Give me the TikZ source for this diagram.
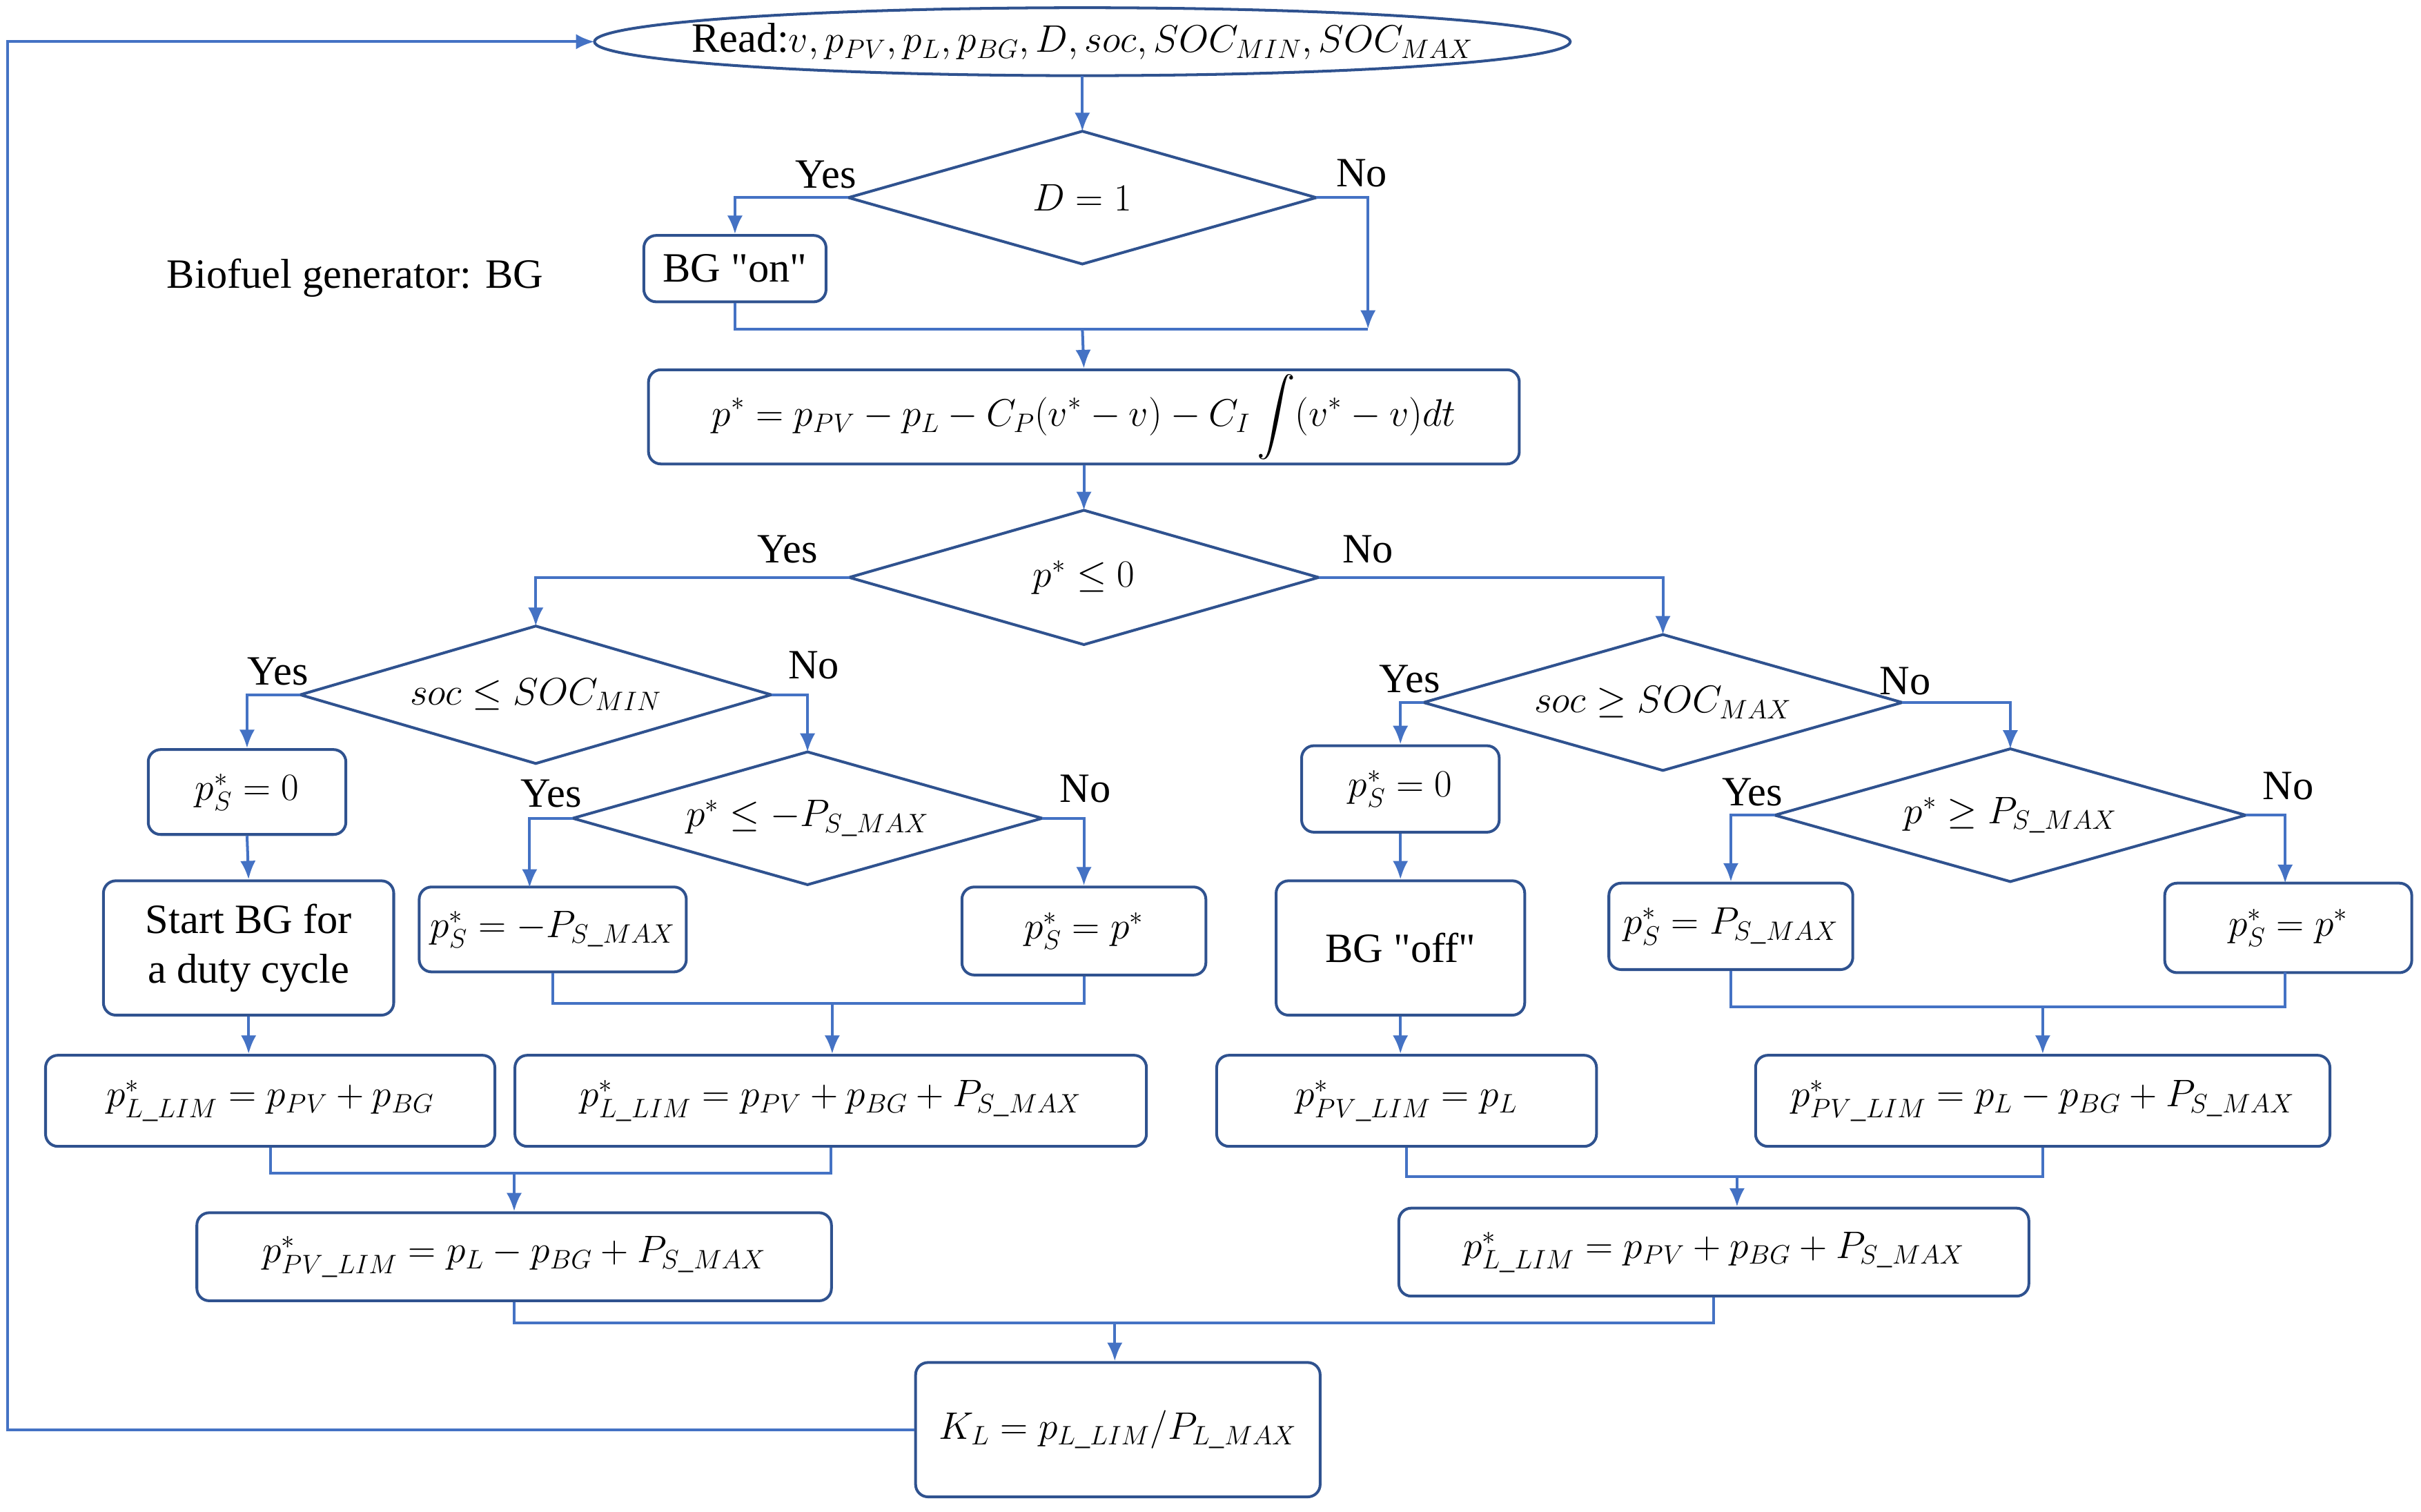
\documentclass[tikz,border=0pt]{standalone}
\usepackage{amsmath}
\usepackage{fontspec}
\setmainfont{Liberation Serif}
\usetikzlibrary{shapes.geometric,arrows.meta}
\definecolor{ln}{RGB}{68,114,196}
\definecolor{bd}{RGB}{47,82,143}
\newcommand\mydia[6]{% name, cx, cy, w, h, text
  \coordinate (#1-w) at ({#2-#4/2},#3);
  \coordinate (#1-e) at ({#2+#4/2},#3);
  \coordinate (#1-n) at (#2,{#3-#5/2});
  \coordinate (#1-s) at (#2,{#3+#5/2});
  \draw[draw=bd,line width=1.8pt,line join=miter] (#1-w) -- (#1-n) -- (#1-e) -- (#1-s) -- cycle;
  \node[inner sep=0pt] (#1) at (#2,#3) {#6};}
\begin{document}
\begin{tikzpicture}[x=1pt,y=-1pt,
  every node/.style={font=\fontsize{27}{32}\selectfont},
  box/.style={draw=bd,line width=1.8pt,rounded corners=8pt,inner sep=0pt,align=center},
  ar/.style={draw=ln,line width=1.8pt,-{Latex[length=12pt,width=10pt]}},
  ln/.style={draw=ln,line width=1.8pt},
  lab/.style={inner sep=0pt}]
\useasboundingbox (0,0) rectangle (1568,979);
% top
\draw[draw=bd,line width=1.8pt] (701,27) ellipse (316pt and 22pt);
\coordinate (read-w) at (385,27);
\coordinate (read-s) at (701,49);
\node[inner sep=0pt] (read) at (701,27) {Read:$v, p_{PV}, p_L, p_{BG}, D, soc, SOC_{MIN}, SOC_{MAX}$};
\mydia{d1}{701}{128}{303}{86}{$D=1$}
\node[box,minimum width=118pt,minimum height=43pt] (bgon) at (476,174) {BG \textquotedbl on\textquotedbl};
\node[lab] (bio) at (230,180) {Biofuel generator: BG};
\node[box,minimum width=564pt,minimum height=61pt] (pstar) at (702,270) {$\displaystyle p^*=p_{PV}-p_L-C_P(v^*-v)-C_I\int(v^*-v)dt$};
\mydia{d2}{702}{374}{304}{87}{$p^*\le 0$}
% left
\mydia{d3}{347}{450}{305}{89}{$soc\le SOC_{MIN}$}
\node[box,minimum width=128pt,minimum height=55pt] (ps0l) at (160,513) {$p_S^*=0$};
\node[box,minimum width=188pt,minimum height=87pt] (start) at (161,614) {Start BG for\\a duty cycle};
\node[box,minimum width=291pt,minimum height=59pt] (pllim1) at (175,713) {$p^*_{L\_LIM}=p_{PV}+p_{BG}$};
\mydia{d4}{523}{530}{304}{86}{$p^*\le -P_{S\_MAX}$}
\node[box,minimum width=173pt,minimum height=55pt] (psneg) at (358,602) {$p_S^*=-P_{S\_MAX}$};
\node[box,minimum width=158pt,minimum height=57pt] (pspl) at (702,603) {$p_S^*=p^*$};
\node[box,minimum width=409pt,minimum height=59pt] (pllim2) at (538,713) {$p^*_{L\_LIM}=p_{PV}+p_{BG}+P_{S\_MAX}$};
\node[box,minimum width=411pt,minimum height=57pt] (ppvlim1) at (333,814) {$p^*_{PV\_LIM}=p_L-p_{BG}+P_{S\_MAX}$};
% right
\mydia{d5}{1077}{455}{310}{88}{$soc\ge SOC_{MAX}$}
\node[box,minimum width=128pt,minimum height=56pt] (ps0r) at (907,511) {$p_S^*=0$};
\node[box,minimum width=161pt,minimum height=87pt] (bgoff) at (907,614) {BG \textquotedbl off\textquotedbl};
\node[box,minimum width=246pt,minimum height=59pt] (ppvlim2) at (911,713) {$p^*_{PV\_LIM}=p_L$};
\mydia{d6}{1302}{528}{305}{86}{$p^*\ge P_{S\_MAX}$}
\node[box,minimum width=158pt,minimum height=56pt] (psmax) at (1121,600) {$p_S^*=P_{S\_MAX}$};
\node[box,minimum width=160pt,minimum height=58pt] (pspr) at (1482,601) {$p_S^*=p^*$};
\node[box,minimum width=372pt,minimum height=59pt] (ppvlim3) at (1323,713) {$p^*_{PV\_LIM}=p_L-p_{BG}+P_{S\_MAX}$};
\node[box,minimum width=408pt,minimum height=57pt] (pllim3) at (1110,811) {$p^*_{L\_LIM}=p_{PV}+p_{BG}+P_{S\_MAX}$};
\node[box,minimum width=262pt,minimum height=87pt] (kl) at (724,926) {$K_L=p_{L\_LIM}/P_{L\_MAX}$};
% labels
\node[lab] (y1) at (535,113) {Yes};
\node[lab] (n1) at (882,112) {No};
\node[lab] (y2) at (510,356) {Yes};
\node[lab] (n2) at (886,356) {No};
\node[lab] (y3) at (180,435) {Yes};
\node[lab] (n3) at (527,431) {No};
\node[lab] (y4) at (357,514) {Yes};
\node[lab] (n4) at (703,511) {No};
\node[lab] (y5) at (913,440) {Yes};
\node[lab] (n5) at (1234,441) {No};
\node[lab] (y6) at (1135,513) {Yes};
\node[lab] (n6) at (1482,509) {No};
% coordinates
\coordinate (j1) at (701,213);
\coordinate (noend) at (886,213);
\coordinate (loopA) at (5,926);
\coordinate (loopB) at (5,27);
\coordinate (j2) at (539,650);
\coordinate (j3) at (333,760);
\coordinate (j4) at (1323,652);
\coordinate (j5) at (1125,762);
\coordinate (j6) at (722,857);
\coordinate (psnegT) at (343,575);
\coordinate (psprT) at (1480,572);
\coordinate (psprB) at (1480,630);
% connectors
\draw[ar] (kl.west) -- (loopA) -- (loopB) -- (read-w);
\draw[ar] (read-s) -- (d1-n);
\draw[ar] (d1-w) -| (bgon.north);
\draw[ar] (d1-e) -| (noend);
\draw[ln] (bgon.south) |- (noend);
\draw[ar] (j1) -- (pstar.north);
\draw[ar] (pstar.south) -- (d2-n);
\draw[ar] (d2-w) -| (d3-n);
\draw[ar] (d2-e) -| (d5-n);
\draw[ar] (d3-w) -| (ps0l.north);
\draw[ar] (d3-e) -| (d4-n);
\draw[ar] (ps0l.south) -- (start.north);
\draw[ar] (start.south) -- (pllim1.north -| start.south);
\draw[ar] (d4-w) -| (psnegT);
\draw[ar] (d4-e) -| (pspl.north);
\draw[ln] (psneg.south) |- (j2) -| (pspl.south);
\draw[ar] (j2) -- (pllim2.north -| j2);
\draw[ln] (pllim1.south) |- (j3) -| (pllim2.south);
\draw[ar] (j3) -- (ppvlim1.north);
\draw[ar] (d5-w) -| (ps0r.north);
\draw[ar] (d5-e) -| (d6-n);
\draw[ar] (ps0r.south) -- (bgoff.north);
\draw[ar] (bgoff.south) -- (ppvlim2.north -| bgoff.south);
\draw[ar] (d6-w) -| (psmax.north);
\draw[ar] (d6-e) -| (psprT);
\draw[ln] (psmax.south) |- (j4) -| (psprB);
\draw[ar] (j4) -- (ppvlim3.north);
\draw[ln] (ppvlim2.south) |- (j5) -| (ppvlim3.south);
\draw[ar] (j5) -- (pllim3.north -| j5);
\draw[ln] (ppvlim1.south) |- (j6) -| (pllim3.south);
\draw[ar] (j6) -- (kl.north -| j6);
\end{tikzpicture}
\end{document}
